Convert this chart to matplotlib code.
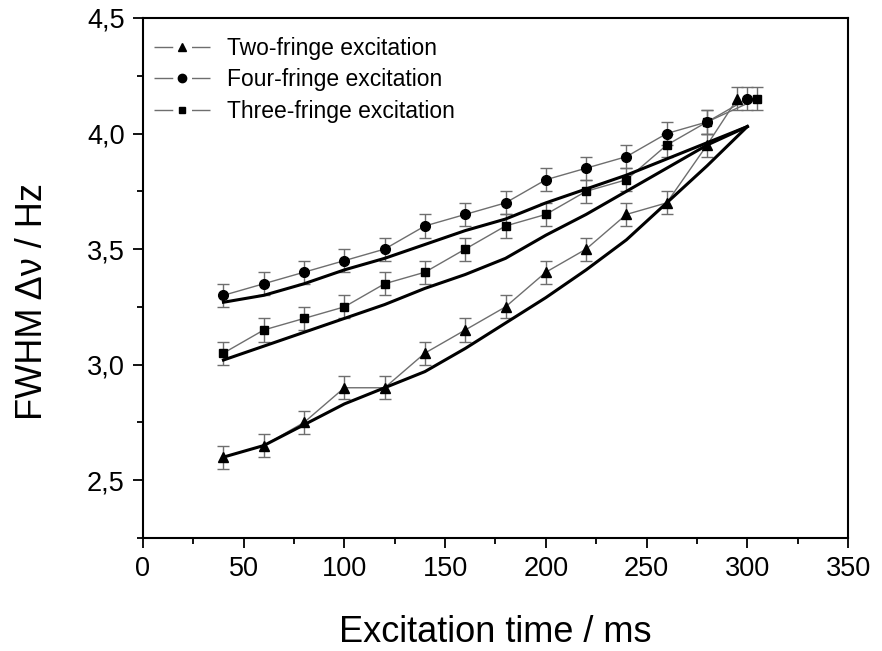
import matplotlib
matplotlib.use("Agg")
import matplotlib.pyplot as plt
from matplotlib.ticker import MultipleLocator, FuncFormatter
from matplotlib.lines import Line2D

plt.rcParams['font.family'] = ['Liberation Sans', 'DejaVu Sans']

# Measured data
x_two = [40, 60, 80, 100, 120, 140, 160, 180, 200, 220, 240, 260, 280, 295]
y_two = [2.60, 2.65, 2.75, 2.90, 2.90, 3.05, 3.15, 3.25, 3.40, 3.50, 3.65, 3.70, 3.95, 4.15]

x_four = [40, 60, 80, 100, 120, 140, 160, 180, 200, 220, 240, 260, 280, 300]
y_four = [3.30, 3.35, 3.40, 3.45, 3.50, 3.60, 3.65, 3.70, 3.80, 3.85, 3.90, 4.00, 4.05, 4.15]

x_three = [40, 60, 80, 100, 120, 140, 160, 180, 200, 220, 240, 260, 280, 305]
y_three = [3.05, 3.15, 3.20, 3.25, 3.35, 3.40, 3.50, 3.60, 3.65, 3.75, 3.80, 3.95, 4.05, 4.15]

err = 0.05

# Fit curves
x_fit = [40, 60, 80, 100, 120, 140, 160, 180, 200, 220, 240, 260, 280, 300]
fit_four = [3.27, 3.30, 3.35, 3.41, 3.46, 3.52, 3.58, 3.63, 3.70, 3.76, 3.82, 3.89, 3.96, 4.03]
fit_three = [3.02, 3.08, 3.14, 3.20, 3.26, 3.33, 3.39, 3.46, 3.56, 3.65, 3.75, 3.85, 3.95, 4.03]
fit_two = [2.60, 2.65, 2.74, 2.83, 2.90, 2.97, 3.07, 3.18, 3.29, 3.41, 3.54, 3.70, 3.86, 4.03]

labels = ['Two-fringe excitation', 'Four-fringe excitation', 'Three-fringe excitation']

fig = plt.figure(figsize=(8.82, 6.51), dpi=100)
ax = fig.add_axes([0.162, 0.1736, 0.7995, 0.7988])

gray = '#6e6e6e'
for xs, ys, m, ms in [(x_two, y_two, '^', 7), (x_four, y_four, 'o', 7), (x_three, y_three, 's', 6)]:
    ax.errorbar(xs, ys, yerr=err, fmt='none', ecolor=gray, elinewidth=1.0, capsize=4, capthick=1.0, zorder=2)
    ax.plot(xs, ys, color=gray, lw=1.0, zorder=3)
    ax.plot(xs, ys, ls='none', marker=m, ms=ms, color='black', zorder=4)

for f in (fit_four, fit_three, fit_two):
    ax.plot(x_fit, f, color='black', lw=2.2, zorder=5)

ax.set_xlim(0, 350)
ax.set_ylim(2.25, 4.5)
ax.xaxis.set_major_locator(MultipleLocator(50))
ax.xaxis.set_minor_locator(MultipleLocator(25))
ax.yaxis.set_major_locator(MultipleLocator(0.5))
ax.yaxis.set_minor_locator(MultipleLocator(0.25))
ax.yaxis.set_major_formatter(FuncFormatter(lambda v, p: f"{v:.1f}".replace('.', ',')))
ax.tick_params(axis='both', which='major', direction='out', length=7, width=1.3, labelsize=19.5, pad=6)
ax.tick_params(axis='both', which='minor', direction='out', length=4, width=1.3)
for s in ax.spines.values():
    s.set_linewidth(1.5)

ax.set_xlabel('Excitation time / ms', fontsize=26, labelpad=24)
ax.set_ylabel('FWHM Δν / Hz', fontsize=26)
ax.yaxis.set_label_coords(-0.132, 0.455)

dash = (0, (13.5, 13.5))
handles = [
    Line2D([], [], color=gray, lw=1.0, ls=dash, marker='^', ms=6, mfc='black', mec='black'),
    Line2D([], [], color=gray, lw=1.0, ls=dash, marker='o', ms=6, mfc='black', mec='black'),
    Line2D([], [], color=gray, lw=1.0, ls=dash, marker='s', ms=5, mfc='black', mec='black'),
]
ax.legend(handles, labels, loc='upper left', bbox_to_anchor=(11 / 705, 1 - 19 / 520),
          frameon=False, fontsize=16.5, handlelength=2.45, borderaxespad=0, borderpad=0,
          labelspacing=0.37, handletextpad=0.72)

fig.savefig('out.png', dpi=100)
